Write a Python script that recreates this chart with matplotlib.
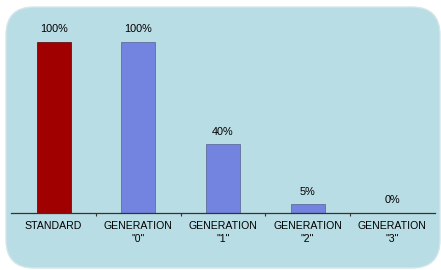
import matplotlib
matplotlib.use("Agg")
import matplotlib.pyplot as plt
from matplotlib.patches import FancyBboxPatch
import numpy as np

categories = ["STANDARD", "GENERATION\n\"0\"", "GENERATION\n\"1\"", "GENERATION\n\"2\"", "GENERATION\n\"3\""]
values = [100, 100, 40, 5, 0]
value_labels = ["100%", "100%", "40%", "5%", "0%"]
colors = ["#a00000", "#7283e0", "#7283e0", "#7283e0", "#7283e0"]

plt.rcParams['font.family'] = ['Liberation Sans', 'DejaVu Sans']

W, H = 441, 270
fig = plt.figure(figsize=(W / 100, H / 100), dpi=100)
fig.patch.set_facecolor("white")

bg = fig.add_axes([0, 0, 1, 1])
bg.set_xlim(0, W)
bg.set_ylim(H, 0)
bg.axis("off")
bg.add_patch(FancyBboxPatch((6, 7), 434, 261, boxstyle="round,pad=0,rounding_size=28",
                            facecolor="#b9dde4", edgecolor="#d4e6ea", lw=1.0))

left, right = 11.3, 434.7
bottom_px, top_px = 213, 16
ax = fig.add_axes([left / W, 1 - bottom_px / H, (right - left) / W, (bottom_px - top_px) / H])
ax.patch.set_alpha(0)
x = np.arange(len(categories))
ax.bar(x, values, width=0.4, color=colors, edgecolor=["#5a0000"] + ["#55628f"] * 4, linewidth=0.5, zorder=2)
ax.set_xlim(-0.5, len(categories) - 0.5)
ax.set_ylim(0, 115)

for xi, v, lab in zip(x, values, value_labels):
    ax.annotate(lab, (xi, v), xytext=(0, 5.5), textcoords="offset points",
                ha="center", va="bottom", fontsize=7.8, color="#000000")

for s in ["top", "right", "left"]:
    ax.spines[s].set_visible(False)
ax.spines["bottom"].set_color("#333333")
ax.spines["bottom"].set_linewidth(0.9)
ax.set_yticks([])
ax.set_xticks(x)
ax.set_xticklabels(categories, fontsize=7.6, color="#000000", linespacing=1.35)
ax.tick_params(axis="x", which="major", length=0, pad=6)
ax.set_xticks(np.arange(0.5, len(categories) - 1, 1), minor=True)
ax.tick_params(axis="x", which="minor", length=2.5, width=0.8, color="#333333", direction="out")

fig.savefig("out.png", dpi=100, facecolor="white")
